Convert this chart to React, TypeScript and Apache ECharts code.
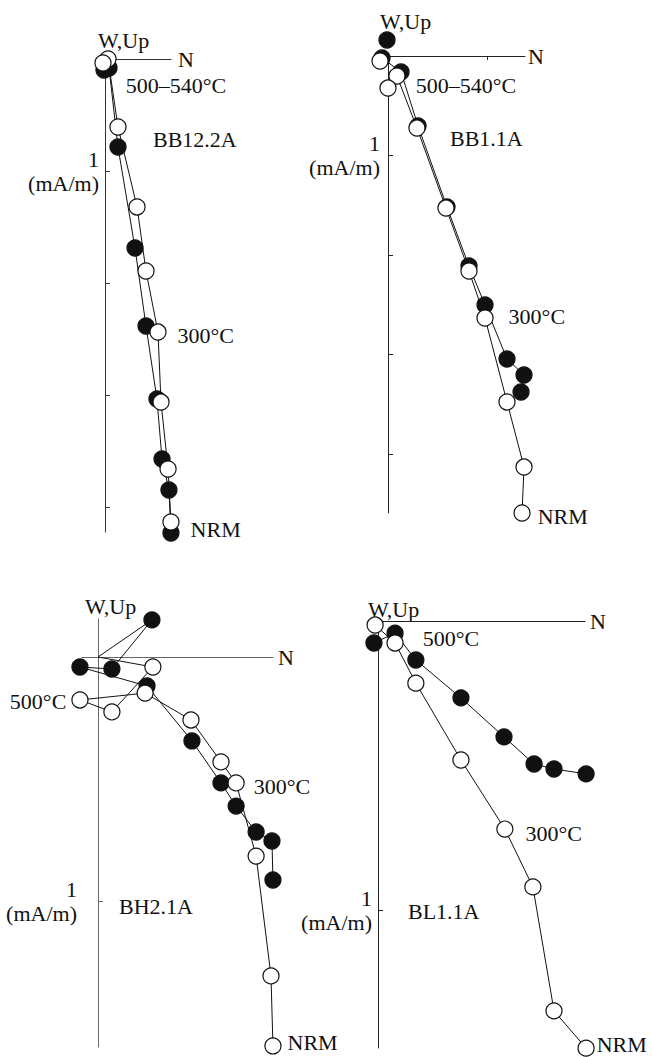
import React, { useEffect, useRef } from "react";
import * as echarts from "echarts";

const FONT = '"Liberation Serif", "Times New Roman", "DejaVu Serif", serif';
const FS = 22;
const INK = "#111";

// ---- Data (mA/m): [N component, W/Up component] ----
// BB12.2A
const bb122Filled = [
  [0.589, -4.232], [0.571, -3.848], [0.509, -3.571], [0.464, -3.036], [0.366, -2.384],
  [0.268, -1.688], [0.116, -0.786], [0.036, -0.08], [-0.009, -0.098],
];
const bb122Open = [
  [0.589, -4.134], [0.563, -3.661], [0.5, -3.063], [0.473, -2.438], [0.366, -1.893],
  [0.286, -1.321], [0.116, -0.607], [0.027, 0.0], [-0.018, -0.036],
];
// BB1.1A
const bb11Filled = [
  [1.337, -3.377], [1.367, -3.206], [1.196, -3.045], [0.975, -2.503], [0.814, -2.111],
  [0.593, -1.518], [0.302, -0.704], [0.131, -0.161], [-0.06, -0.02], [-0.01, 0.161],
];
const bb11Open = [
  [1.347, -4.593], [1.367, -4.131], [1.196, -3.477], [0.975, -2.633], [0.814, -2.161],
  [0.583, -1.528], [0.291, -0.724], [0.09, -0.201], [0.0, -0.322], [-0.08, -0.05],
];
// BH2.1A
const bh21Filled = [
  [0.717, -0.914], [0.713, -0.754], [0.648, -0.717], [0.566, -0.611], [0.504, -0.516],
  [0.385, -0.344], [0.201, -0.119], [-0.074, -0.041], [0.057, -0.049], [0.221, 0.152], [0, 0],
];
const bh21Open = [
  [0.717, -1.594], [0.709, -1.307], [0.648, -0.816], [0.566, -0.516], [0.504, -0.43],
  [0.381, -0.258], [0.193, -0.148], [-0.074, -0.176], [0.057, -0.225], [0.225, -0.041], [0, 0],
];
// BL1.1A
const bl11Filled = [
  [0.72, -0.529], [0.609, -0.512], [0.54, -0.495], [0.436, -0.401], [0.287, -0.266],
  [0.131, -0.135], [0.059, -0.042], [-0.014, -0.076],
];
const bl11Open = [
  [0.72, -1.478], [0.609, -1.349], [0.536, -0.92], [0.439, -0.72], [0.287, -0.481],
  [0.131, -0.215], [0.059, -0.076], [-0.01, -0.014],
];

const sampleNames = ["BB12.2A", "BB1.1A", "BH2.1A", "BL1.1A"];
const yTickValues = [[-1, -2, -3, -4], [-1, -2, -3, -4], [-1], [-1]];
const xTickValues = [[], [1], [], []];
const unitTick = -1;

// ---- Layout (pixels) ----
type PointLabel = { which: "filled" | "open"; index: number; text: string; pos: "left" | "right"; offset: number[] };
const panels = [
  {
    filled: bb122Filled, open: bb122Open,
    ox: 105, oy: 59, ppu: 112, left: 105, right: 171, top: 59, bottom: 532,
    axisColor: "#333", nameGap: 7, labelMargin: 6, originEnd: false,
    wup: [98, 40], title: [153, 139],
    labels: [
      { which: "filled", index: 7, text: "500–540°C", pos: "right", offset: [3, 18] },
      { which: "open", index: 3, text: "300°C", pos: "right", offset: [6, 3] },
      { which: "open", index: 0, text: "NRM", pos: "right", offset: [6, 7] },
    ] as PointLabel[],
  },
  {
    filled: bb11Filled, open: bb11Open,
    ox: 388, oy: 56, ppu: 99.5, left: 388, right: 525, top: 56, bottom: 513,
    axisColor: "#222", nameGap: 3, labelMargin: 8, originEnd: false,
    wup: [380, 21], title: [450, 138],
    labels: [
      { which: "filled", index: 7, text: "500–540°C", pos: "right", offset: [1, 13] },
      { which: "open", index: 3, text: "300°C", pos: "right", offset: [10, -1] },
      { which: "open", index: 0, text: "NRM", pos: "right", offset: [2, 3] },
    ] as PointLabel[],
  },
  {
    filled: bh21Filled, open: bh21Open,
    ox: 98, oy: 657, ppu: 244, left: 82, right: 273, top: 619, bottom: 1047,
    axisColor: "#666", nameGap: 5, labelMargin: 5, originEnd: true,
    wup: [85, 606], title: [119, 906],
    labels: [
      { which: "open", index: 7, text: "500°C", pos: "left", offset: [0, 2] },
      { which: "open", index: 3, text: "300°C", pos: "right", offset: [4, 4] },
      { which: "open", index: 0, text: "NRM", pos: "right", offset: [1, -3] },
    ] as PointLabel[],
  },
  {
    filled: bl11Filled, open: bl11Open,
    ox: 378, oy: 621, ppu: 289, left: 378, right: 585, top: 621, bottom: 1048,
    axisColor: "#222", nameGap: 5, labelMargin: 6, originEnd: false,
    wup: [368, 609], title: [408, 911],
    labels: [
      { which: "filled", index: 6, text: "500°C", pos: "right", offset: [14, 5] },
      { which: "open", index: 3, text: "300°C", pos: "right", offset: [7, 4] },
      { which: "open", index: 0, text: "NRM", pos: "right", offset: [-3, -4] },
    ] as PointLabel[],
  },
];

function buildOption() {
  const grid: any[] = [];
  const xAxis: any[] = [];
  const yAxis: any[] = [];
  const series: any[] = [];
  const graphic: any[] = [];

  panels.forEach((p, gi) => {
    grid.push({
      left: p.left, top: p.top, width: p.right - p.left, height: p.bottom - p.top,
      containLabel: false, outerBoundsMode: "none",
    });
    const lineStyle = { color: p.axisColor, width: 1 };
    xAxis.push({
      type: "value", gridIndex: gi,
      min: (p.left - p.ox) / p.ppu, max: (p.right - p.ox) / p.ppu,
      axisLine: { show: true, onZero: true, lineStyle },
      axisTick: { show: xTickValues[gi].length > 0, inside: false, length: 4, customValues: xTickValues[gi], lineStyle },
      axisLabel: { show: false },
      splitLine: { show: false },
      name: "N", nameLocation: "end", nameGap: p.nameGap,
      nameTextStyle: { fontFamily: FONT, fontSize: FS, color: INK, verticalAlign: "middle" },
    });
    yAxis.push({
      type: "value", gridIndex: gi,
      min: (p.oy - p.bottom) / p.ppu, max: (p.oy - p.top) / p.ppu,
      axisLine: { show: true, onZero: true, lineStyle },
      axisTick: { show: true, inside: true, length: 5, customValues: yTickValues[gi], lineStyle },
      axisLabel: {
        show: true, customValues: [unitTick],
        formatter: () => "1\n(mA/m)",
        fontFamily: FONT, fontSize: FS, color: INK, lineHeight: 24,
        align: "right", verticalAlign: "middle", margin: p.labelMargin,
      },
      splitLine: { show: false },
    });

    const mk = (pts: number[][], which: "filled" | "open") =>
      pts.map((v, i) => {
        const item: any = { value: v };
        const l = p.labels.find((q) => q.which === which && q.index === i);
        if (l) {
          item.label = {
            show: true, formatter: l.text, position: l.pos, offset: l.offset, distance: 5,
            fontFamily: FONT, fontSize: FS, color: INK,
          };
        }
        if (p.originEnd && i === pts.length - 1) item.symbol = "none";
        return item;
      });

    (["filled", "open"] as const).forEach((which) => {
      const isFilled = which === "filled";
      series.push({
        type: "line", xAxisIndex: gi, yAxisIndex: gi, clip: false,
        symbol: "circle", symbolSize: 16, showSymbol: true, showAllSymbol: true,
        z: isFilled ? 2 : 3,
        lineStyle: { color: INK, width: 1 },
        itemStyle: { color: isFilled ? INK : "#fff", borderColor: INK, borderWidth: 1.2 },
        label: { show: false },
        emphasis: { disabled: true },
        data: mk(isFilled ? p.filled : p.open, which),
      });
    });

    graphic.push({
      type: "text", x: p.wup[0], y: p.wup[1],
      style: { text: "W,Up", font: `${FS}px ${FONT}`, fill: INK, textVerticalAlign: "middle", verticalAlign: "middle" },
    });
    graphic.push({
      type: "text", x: p.title[0], y: p.title[1],
      style: { text: sampleNames[gi], font: `${FS}px ${FONT}`, fill: INK, textVerticalAlign: "middle", verticalAlign: "middle" },
    });
  });

  return {
    animation: false,
    backgroundColor: "#fff",
    grid, xAxis, yAxis, series, graphic,
  };
}

export default function App() {
  const ref = useRef<HTMLDivElement>(null);
  useEffect(() => {
    document.body.style.margin = "0";
    if (!ref.current) return;
    const chart = echarts.init(ref.current, null, { renderer: "svg" });
    chart.setOption(buildOption() as any);
    return () => chart.dispose();
  }, []);
  return <div ref={ref} style={{ width: 652, height: 1057 }} />;
}
